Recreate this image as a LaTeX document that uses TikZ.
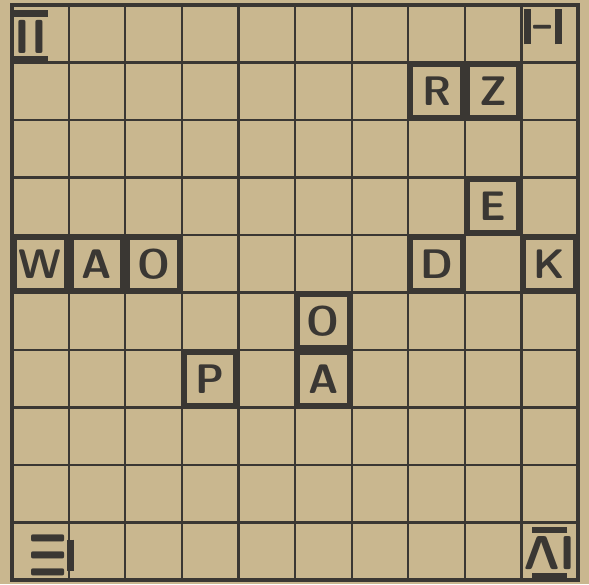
\documentclass[tikz,border=0pt]{standalone}
\usepackage{tikz}
% a numeral between two thick bars, as hand-lettered on the board
\newcommand{\barred}[2]{\vbox{\hrule height 3.4pt\kern1.5pt
  \hbox to #1{\hss#2\hss}\kern1.5pt\hrule height 3.4pt}}
\newcommand{\topbarred}[2]{\vbox{\hrule height 3.4pt\kern1.5pt
  \hbox to #1{\hss#2\hss}}}

\begin{document}
\begin{tikzpicture}[
  x=1cm, y=1.016cm,
  font=\sffamily\bfseries,
  gridline/.style={draw=ink, line width=1.1pt},
  frameline/.style={draw=ink, line width=2.4pt},
  tile/.style={rectangle, draw=ink, line width=2.8pt, text=ink,
    minimum width=0.92cm, minimum height=0.94cm, inner sep=0pt,
    font=\sffamily\bfseries\huge},
  corner/.style={text=ink, inner sep=0pt},
]
\definecolor{paper}{HTML}{C9B78F}
\definecolor{ink}{HTML}{3A3733}

% paper and page margins
\fill[paper] (-0.212,-0.07) rectangle (10.194,10.087);
\useasboundingbox (-0.212,-0.07) rectangle (10.194,10.087);

% the 10 x 10 board
\foreach \i in {1,...,9} {
  \draw[gridline] (\i,0) -- (\i,10);
  \draw[gridline] (0,\i) -- (10,\i);
}
\draw[frameline] (0,0) rectangle (10,10);

% corner numerals, each turned towards its own side
\node[corner, font=\sffamily\bfseries\fontsize{24}{24}\selectfont]
  (cornerii) at (0.34,9.45) {\barred{0.6cm}{II}};
\node[corner, rotate=90, font=\sffamily\bfseries\fontsize{13}{13}\selectfont]
  (corneri) at (9.38,9.62) {\barred{0.62cm}{I}};
\node[corner, rotate=-90, font=\sffamily\bfseries\fontsize{24}{24}\selectfont]
  (corneriii) at (0.72,0.43) {\topbarred{0.56cm}{III}};
\node[corner, rotate=180, font=\sffamily\bfseries\fontsize{24}{24}\selectfont]
  (corneriv) at (9.5,0.47) {\barred{0.62cm}{IV}};

% lettered tiles
\node[tile] (r) at (7.5,8.5) {R};
\node[tile] (z) at (8.5,8.5) {Z};
\node[tile] (e) at (8.5,6.5) {E};
\node[tile] (d) at (7.5,5.5) {D};
\node[tile] (k) at (9.5,5.5) {K};
\node[tile] (w) at (0.5,5.5) {W};
\node[tile] (a1) at (1.5,5.5) {A};
\node[tile] (o1) at (2.5,5.5) {O};
\node[tile] (o2) at (5.5,4.5) {O};
\node[tile] (a2) at (5.5,3.5) {A};
\node[tile] (p) at (3.5,3.5) {P};
\end{tikzpicture}
\end{document}
